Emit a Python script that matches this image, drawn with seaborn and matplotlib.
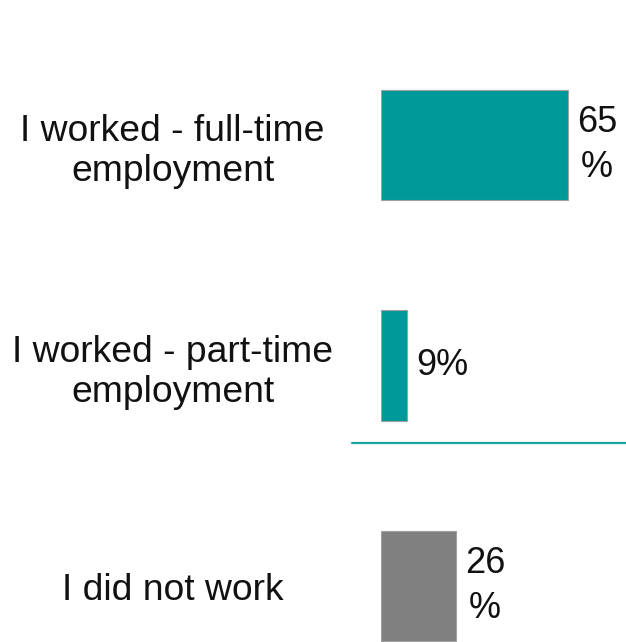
import matplotlib
matplotlib.use("Agg")
import matplotlib.pyplot as plt
from matplotlib.lines import Line2D
import seaborn as sns
import pandas as pd

categories = ["I worked - full-time\nemployment",
              "I worked - part-time\nemployment",
              "I did not work"]
values = [65, 9, 26]
colors = ["#009999", "#009999", "#808080"]

sns.set_style("white")
plt.rcParams["font.family"] = ["Liberation Sans", "DejaVu Sans"]

W, H, DPI = 626, 642, 100
fig = plt.figure(figsize=(W / DPI, H / DPI), dpi=DPI)
ax = fig.add_axes([381 / W, 0, 1 - 381 / W, 1])

df = pd.DataFrame({"category": categories, "value": values})
sns.barplot(data=df, x="value", y="category", hue="category",
            palette=colors, saturation=1, orient="h", width=0.5, legend=False,
            edgecolor="#a0a0a0", linewidth=0.8, ax=ax)

ax.set_xlim(0, 85.2)
ax.set_ylim(2.254, -0.658)
ax.set_xlabel("")
ax.set_ylabel("")
ax.set_xticks([])
for s in ax.spines.values():
    s.set_visible(False)

ax.tick_params(axis="y", length=0, pad=150, labelsize=26.8, labelcolor="#111111")
for lbl in ax.get_yticklabels():
    lbl.set_ha("center")
    lbl.set_multialignment("center")
    lbl.set_linespacing(1.2)

# value labels beside each bar
for i, v in enumerate(values):
    text = f"{v}%" if v < 10 else f"{v}\n%"
    ax.annotate(text, xy=(v, i), xytext=(9, 0), textcoords="offset pixels",
                ha="left", va="center", ma="center", fontsize=26,
                color="#111111", linespacing=1.38)

# separator rule
fig.add_artist(Line2D([352 / W, 1.0], [1 - 443 / H, 1 - 443 / H],
                      color="#1aa3a3", linewidth=1.6))

fig.savefig("out.png", dpi=DPI)
